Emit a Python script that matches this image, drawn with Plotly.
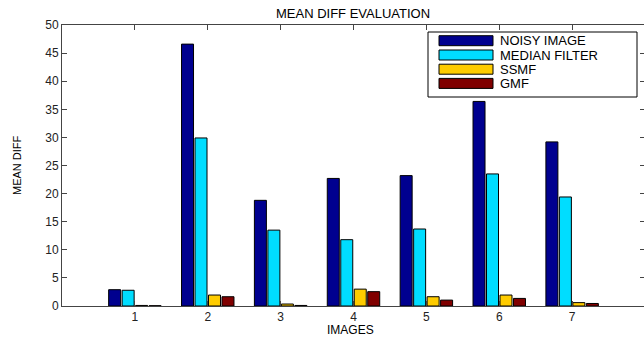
import plotly.graph_objects as go

images = [1, 2, 3, 4, 5, 6, 7]
series_names = ["NOISY IMAGE", "MEDIAN FILTER", "SSMF", "GMF"]
noisy = [2.9, 46.6, 18.8, 22.7, 23.2, 36.4, 29.2]
median = [2.8, 29.9, 13.5, 11.8, 13.7, 23.5, 19.4]
ssmf = [0.1, 1.95, 0.35, 3.0, 1.65, 1.95, 0.6]
gmf = [0.05, 1.65, 0.1, 2.55, 1.05, 1.35, 0.45]
yticks = [0, 5, 10, 15, 20, 25, 30, 35, 40, 45, 50]

colors = ["#00008F", "#00DDFF", "#FFCC00", "#800000"]
values = [noisy, median, ssmf, gmf]

W, H = 700, 338
L, R, T, B = 62, 645, 25, 306

fig = go.Figure()
for name, vals, c in zip(series_names, values, colors):
    fig.add_trace(go.Bar(x=images, y=vals, name=name,
                         marker=dict(color=c, line=dict(color="#000000", width=1)),
                         showlegend=False))

def px(x):
    return (x - L) / (R - L)

def py(y):
    return (B - y) / (B - T)

font = "Liberation Sans, Arial, sans-serif"
shapes = [dict(type="rect", xref="paper", yref="paper",
               x0=px(428), x1=px(637), y0=py(97), y1=py(32),
               line=dict(color="#000000", width=1), fillcolor="#FFFFFF")]
annotations = []
row_y = [40.7, 55, 69.2, 83.4]
for name, c, ry in zip(series_names, colors, row_y):
    shapes.append(dict(type="rect", xref="paper", yref="paper",
                       x0=px(439), x1=px(493), y0=py(ry + 5), y1=py(ry - 5),
                       line=dict(color="#000000", width=1), fillcolor=c))
    annotations.append(dict(xref="paper", yref="paper", x=px(498), y=py(ry),
                            text=name, showarrow=False, xanchor="left", yanchor="middle",
                            font=dict(family=font, size=13, color="#000000")))

annotations.append(dict(xref="paper", yref="paper", x=px(353), y=py(13.5),
                        text="MEAN DIFF EVALUATION", showarrow=False,
                        xanchor="center", yanchor="middle",
                        font=dict(family=font, size=13, color="#000000")))
annotations.append(dict(xref="paper", yref="paper", x=px(350), y=py(330),
                        text="IMAGES", showarrow=False,
                        xanchor="center", yanchor="middle",
                        font=dict(family=font, size=12, color="#000000")))
annotations.append(dict(xref="paper", yref="paper", x=px(17), y=py(165),
                        text="MEAN DIFF", showarrow=False, textangle=-90,
                        xanchor="center", yanchor="middle",
                        font=dict(family=font, size=11, color="#000000")))

fig.update_layout(
    width=W, height=H,
    margin=dict(l=L, r=W - R, t=T, b=H - B, pad=0),
    paper_bgcolor="#FFFFFF", plot_bgcolor="#FFFFFF",
    barmode="group", bargap=0.26, bargroupgap=0.11,
    shapes=shapes, annotations=annotations,
    font=dict(family=font, size=12, color="#222222"),
    xaxis=dict(range=[0, 8], tickvals=images, ticks="inside", ticklen=5,
               showline=True, linecolor="#444444", linewidth=1, mirror="ticks",
               showgrid=False, zeroline=False, tickcolor="#444444",
               tickfont=dict(family=font, size=12, color="#222222")),
    yaxis=dict(range=[0, 50], tickvals=yticks, ticks="inside", ticklen=5,
               showline=True, linecolor="#444444", linewidth=1, mirror="ticks",
               showgrid=False, zeroline=False, tickcolor="#444444",
               tickfont=dict(family=font, size=12, color="#222222")),
)

fig.write_html("out.html", config={"displayModeBar": False},
               post_script="document.body.style.margin='0';document.body.style.overflow='hidden';")
